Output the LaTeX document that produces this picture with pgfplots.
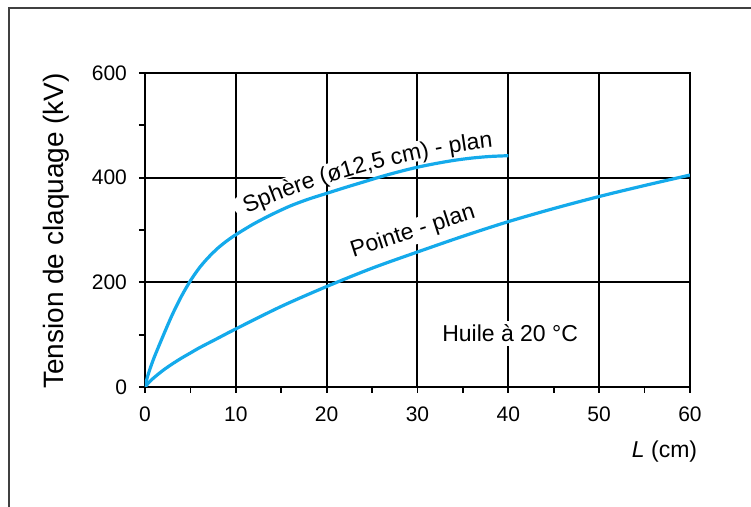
\documentclass[border=0pt]{standalone}
\usepackage{fontspec}
\setmainfont{Liberation Sans}
\usepackage{pgfplots}
\pgfplotsset{compat=1.18}
\usetikzlibrary{decorations.text}
\definecolor{curve}{RGB}{20,170,235}
\begin{document}
\begin{tikzpicture}
\useasboundingbox (-72.5pt,-60pt) rectangle (303pt,193.5pt);
\draw[line width=0.8pt, black!75] (-68pt,-61pt) -- (-68pt,189.5pt) -- (304pt,189.5pt);
\begin{axis}[
  at={(0pt,0pt)}, anchor=south west,
  scale only axis, width=272.5pt, height=157pt,
  xmin=0, xmax=60, ymin=0, ymax=600,
  xtick={0,10,...,60}, ytick={0,200,400,600},
  minor xtick={5,15,...,55}, minor ytick={100,300,500},
  xtick pos=left, ytick pos=left,
  tick align=outside, major tick length=3pt, minor tick length=3pt,
  grid=major, major grid style={black, line width=1pt},
  axis line style={line width=1pt},
  tick style={black, line width=0.9pt},
  /pgf/number format/assume math mode=true,
  ticklabel style={font=\fontsize{10.5}{12}\selectfont},
  yticklabel style={xshift=-2.5pt},
  xticklabel style={yshift=-3.5pt},
  xlabel={\textit{L} (cm)},
  xlabel style={at={(axis description cs:1.026,-0.207)}, anchor=east, font=\fontsize{11.5}{13}\selectfont},
  ylabel={Tension de claquage (kV)},
  ylabel style={at={(axis description cs:-0.163,0.497)}, anchor=center, font=\fontsize{14}{16}\selectfont},
]
% white band behind the curved label
\draw[white, line width=10pt, line cap=round]
  (axis cs:10.79,347.8) .. controls (axis cs:18.83,408.9) and (axis cs:29.61,458.6) .. (axis cs:38.75,473.9);
\path[decorate, decoration={text along path, text align=center,
   text={|\fontsize{11.5}{13}\selectfont|Sphère (ø12,5 cm) - plan}}]
  (axis cs:11.01,330.6) .. controls (axis cs:19.05,392.7) and (axis cs:29.77,442.5) .. (axis cs:38.53,458.6);
\node[fill=white, inner sep=1pt, rotate=18, font=\fontsize{11.5}{13}\selectfont] at (axis cs:29.5,296) {Pointe - plan};
\node[fill=white, inner sep=2pt, font=\fontsize{11.5}{13}\selectfont] at (axis cs:40.2,103) {Huile à 20 °C};
\addplot[curve, line width=1.6pt, smooth] coordinates {
 (0,0) (0.25,18) (0.5,32) (1,56) (2,98) (3,138) (4,173) (5,203) (6,228) (7,248) (8,265) (9,279) (10,291)
 (12,312) (14,330) (16,346) (18,359) (20,370) (22,381) (24,391.5) (26,402) (28,411.5) (30,420)
 (32,427) (34,433) (36,437.5) (38,440.5) (40,442)
};
\addplot[curve, line width=1.6pt, smooth] coordinates {
 (0,0) (0.5,10) (1,18) (2,32) (3,44) (4,55) (5,65) (6,75) (8,93) (10,111) (15,154) (20,192) (25,227)
 (30,258) (35,288) (40,316) (45,341) (50,364) (55,385) (60,405)
};
\end{axis}
\end{tikzpicture}
\end{document}
